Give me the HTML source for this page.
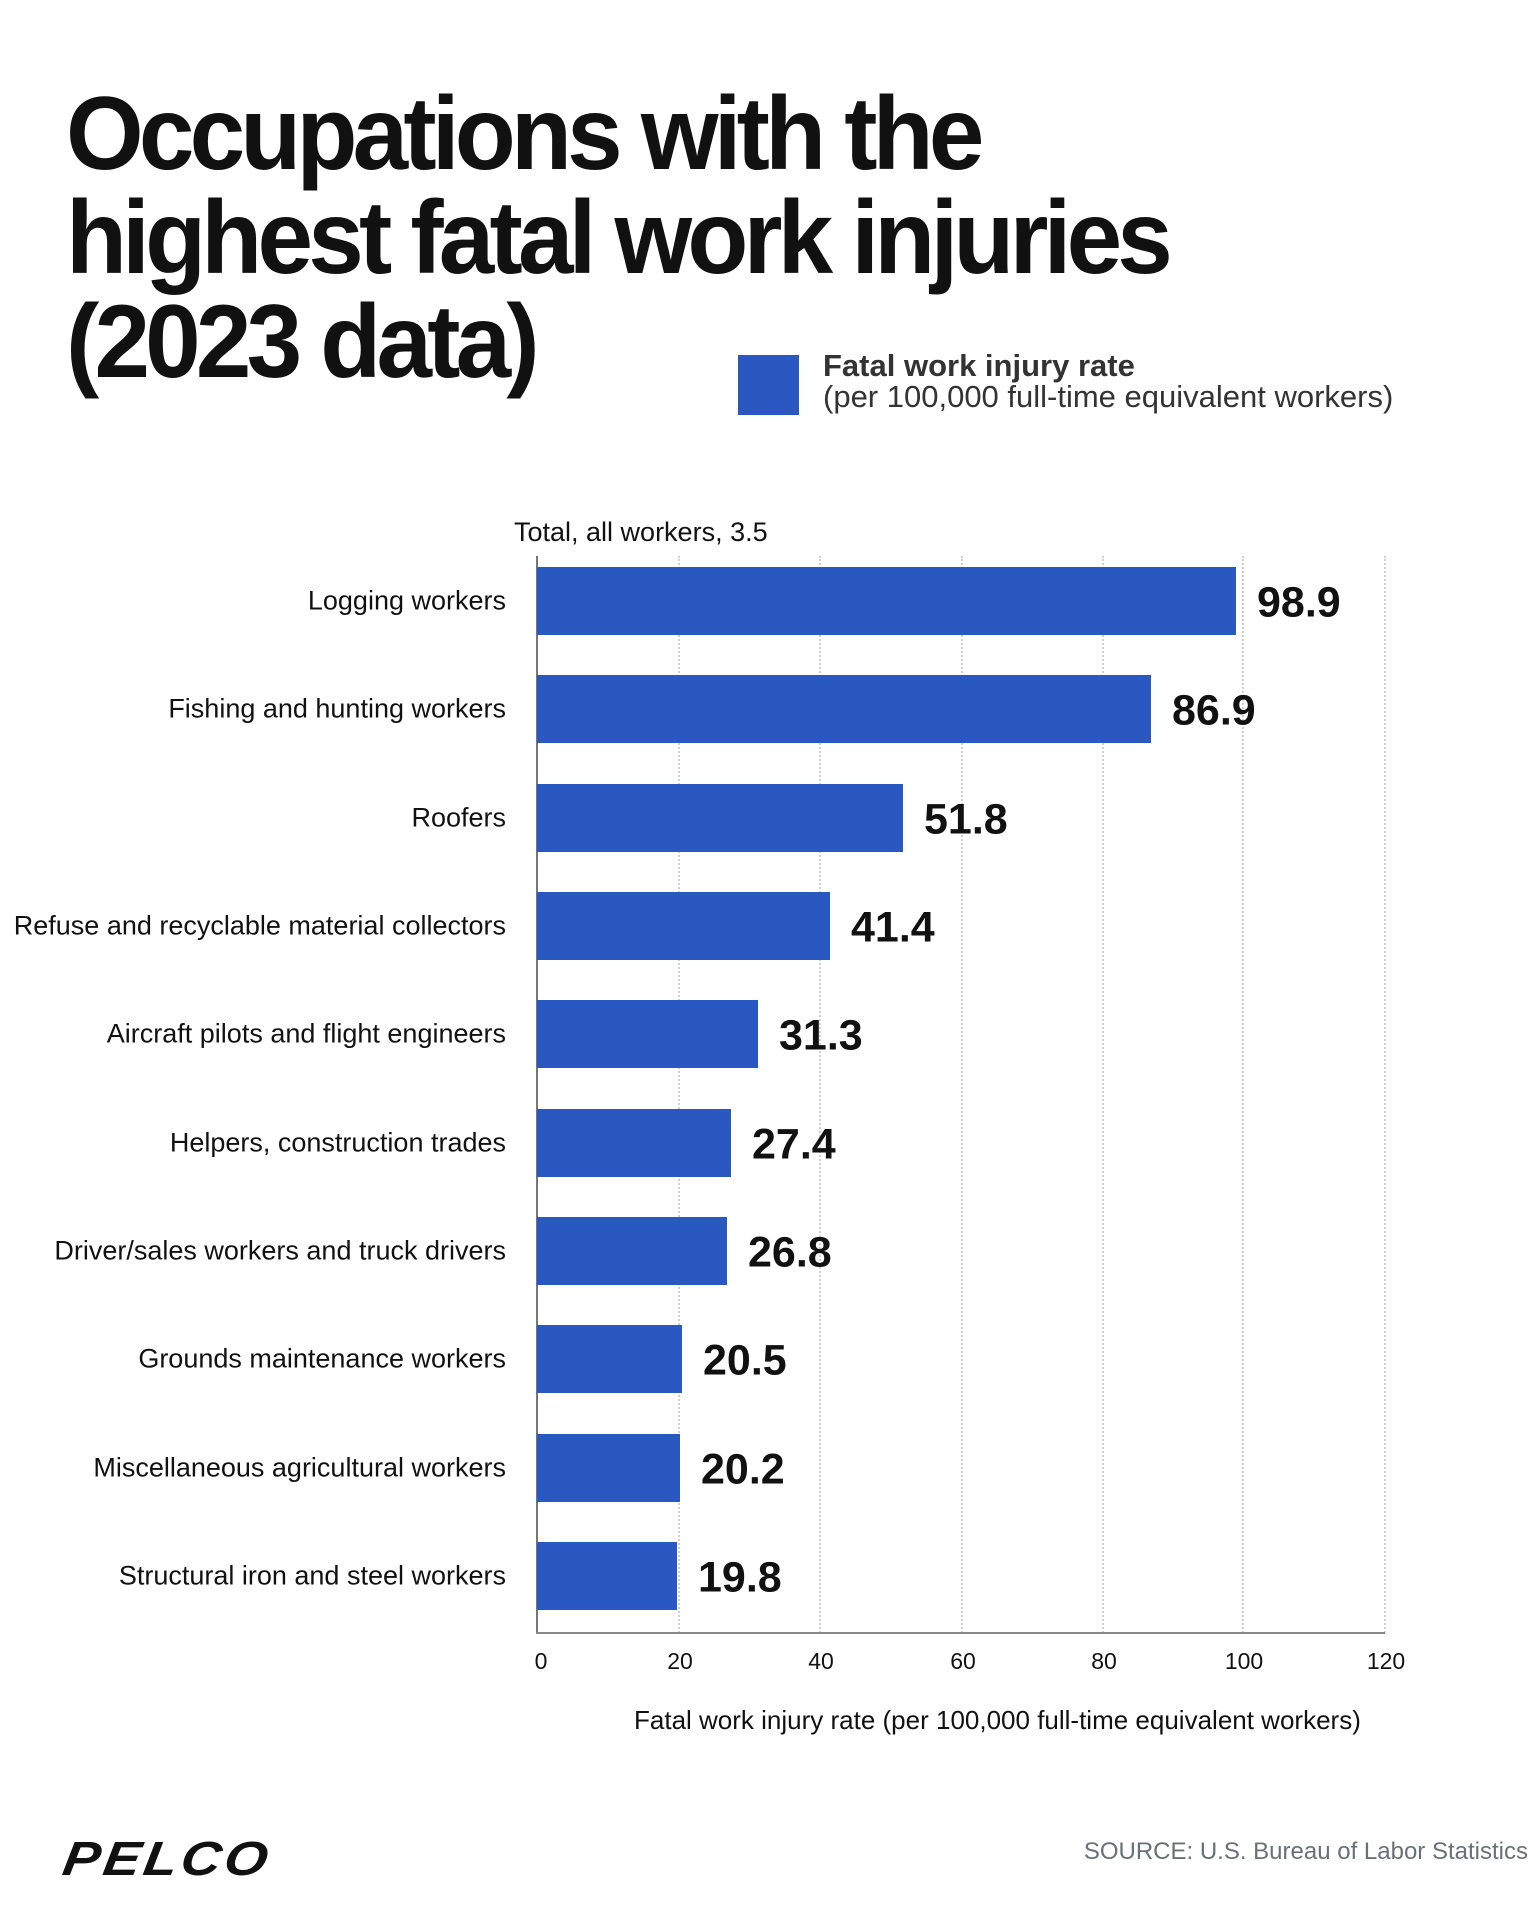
<!DOCTYPE html>
<html><head><meta charset="utf-8"><style>
body{margin:0;width:1536px;height:1916px;background:#fff;position:relative;overflow:hidden;font-family:"Liberation Sans",sans-serif;color:#111}
.a{position:absolute;white-space:nowrap}
.t{font-weight:bold;font-size:104px;letter-spacing:-5px;transform:scaleX(0.96);transform-origin:0 0;left:66px;line-height:104px}
.lab{right:1030px;font-size:27px;transform:translateY(-50%)}
.bar{left:537px;height:68px;background:#2858c0}
.val{font-size:43px;font-weight:bold;transform:translateY(-50%)}
.g{top:556px;height:1077px;border-left:2px dotted #d0d0d0;width:0}
.tk{top:1648px;font-size:23px;transform:translateX(-50%)}
</style></head><body>
<div class="a t" style="top:82px">Occupations with the</div>
<div class="a t" style="top:186px">highest fatal work injuries</div>
<div class="a t" style="top:290px">(2023 data)</div>
<div class="a" style="left:738px;top:355px;width:61px;height:60px;background:#2858c0"></div>
<div class="a" style="left:823px;top:348px;font-size:31px;font-weight:bold;color:#333">Fatal work injury rate</div>
<div class="a" style="left:823px;top:379px;font-size:31px;color:#333">(per 100,000 full-time equivalent workers)</div>
<div class="a" style="left:514px;top:517px;font-size:27px">Total, all workers, 3.5</div>
<div class="a g" style="left:678px"></div><div class="a g" style="left:819px"></div><div class="a g" style="left:961px"></div><div class="a g" style="left:1102px"></div><div class="a g" style="left:1242px"></div><div class="a g" style="left:1384px"></div>
<div class="a" style="left:536px;top:556px;width:2px;height:1078px;background:#777"></div>
<div class="a" style="left:536px;top:1632px;width:849px;height:2px;background:#888"></div>
<div class="a tk" style="left:541px">0</div><div class="a tk" style="left:680px">20</div><div class="a tk" style="left:821px">40</div><div class="a tk" style="left:963px">60</div><div class="a tk" style="left:1104px">80</div><div class="a tk" style="left:1244px">100</div><div class="a tk" style="left:1386px">120</div>
<div class="a" style="left:634px;top:1705px;font-size:26px">Fatal work injury rate (per 100,000 full-time equivalent workers)</div>

<div class="a lab" style="top:601px">Logging workers</div><div class="a bar" style="top:567px;width:699px"></div><div class="a val" style="top:603px;left:1257px">98.9</div>
<div class="a lab" style="top:709px">Fishing and hunting workers</div><div class="a bar" style="top:675px;width:614px"></div><div class="a val" style="top:711px;left:1172px">86.9</div>
<div class="a lab" style="top:818px">Roofers</div><div class="a bar" style="top:784px;width:366px"></div><div class="a val" style="top:820px;left:924px">51.8</div>
<div class="a lab" style="top:926px">Refuse and recyclable material collectors</div><div class="a bar" style="top:892px;width:293px"></div><div class="a val" style="top:928px;left:851px">41.4</div>
<div class="a lab" style="top:1034px">Aircraft pilots and flight engineers</div><div class="a bar" style="top:1000px;width:221px"></div><div class="a val" style="top:1036px;left:779px">31.3</div>
<div class="a lab" style="top:1143px">Helpers, construction trades</div><div class="a bar" style="top:1109px;width:194px"></div><div class="a val" style="top:1145px;left:752px">27.4</div>
<div class="a lab" style="top:1251px">Driver/sales workers and truck drivers</div><div class="a bar" style="top:1217px;width:190px"></div><div class="a val" style="top:1253px;left:748px">26.8</div>
<div class="a lab" style="top:1359px">Grounds maintenance workers</div><div class="a bar" style="top:1325px;width:145px"></div><div class="a val" style="top:1361px;left:703px">20.5</div>
<div class="a lab" style="top:1468px">Miscellaneous agricultural workers</div><div class="a bar" style="top:1434px;width:143px"></div><div class="a val" style="top:1470px;left:701px">20.2</div>
<div class="a lab" style="top:1576px">Structural iron and steel workers</div><div class="a bar" style="top:1542px;width:140px"></div><div class="a val" style="top:1578px;left:698px">19.8</div>

<div class="a" style="left:68px;top:1832px;font-size:48px;font-weight:bold;font-style:italic;letter-spacing:3px;transform:scaleX(1.15) skewX(-8deg);transform-origin:0 0">PELCO</div>
<div class="a" style="right:8px;top:1838px;font-size:24px;color:#6b7078">SOURCE: U.S. Bureau of Labor Statistics</div>
</body></html>
